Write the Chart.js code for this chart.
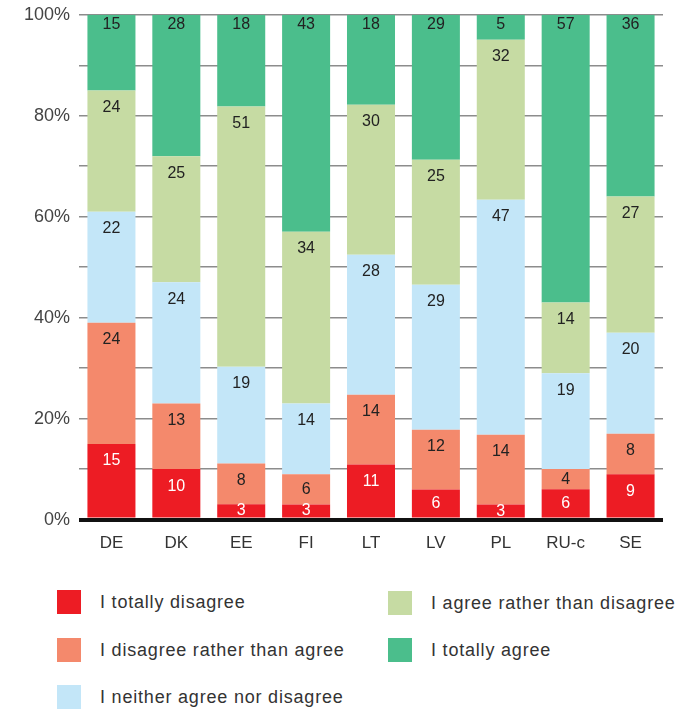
<!DOCTYPE html>
<html>
<head>
<meta charset="utf-8">
<script src="https://cdn.jsdelivr.net/npm/chart.js@4"></script>
<style>
  body { margin: 0; background: #fff; font-family: "Liberation Sans", Arial, sans-serif; }
  #wrap { position: relative; width: 692px; height: 710px; overflow: hidden; }
  #box { position: absolute; left: 0; top: -5px; width: 692px; height: 565px; }
  .leg { position: absolute; display: flex; align-items: center; font-size: 18px; letter-spacing: 0.8px; color: #333; white-space: nowrap; }
  .leg span.sw { display: inline-block; width: 24px; height: 24px; margin-right: 19px; }
</style>
</head>
<body>
<div id="wrap">
  <div id="box"><canvas id="myChart"></canvas></div>
  <div id="legend"></div>
</div>
<script>
const countries = ['DE', 'DK', 'EE', 'FI', 'LT', 'LV', 'PL', 'RU-c', 'SE'];
const totallyDisagree = [15, 10, 3, 3, 11, 6, 3, 6, 9];
const ratherDisagree = [24, 13, 8, 6, 14, 12, 14, 4, 8];
const neither = [22, 24, 19, 14, 28, 29, 47, 19, 20];
const ratherAgree = [24, 25, 51, 34, 30, 25, 32, 14, 27];
const totallyAgree = [15, 28, 18, 43, 18, 29, 5, 57, 36];
const yTicks = [0, 20, 40, 60, 80, 100];

const series = [
  { label: 'I totally disagree', values: totallyDisagree, color: '#ed1c24', text: '#fff' },
  { label: 'I disagree rather than agree', values: ratherDisagree, color: '#f4896c', text: '#222' },
  { label: 'I neither agree nor disagree', values: neither, color: '#c3e6f8', text: '#222' },
  { label: 'I agree rather than disagree', values: ratherAgree, color: '#c6dba3', text: '#222' },
  { label: 'I totally agree', values: totallyAgree, color: '#4bbe8c', text: '#222' }
];

// bars are shown as share of each country's total
const totals = countries.map((c, i) => series.reduce((s, d) => s + d.values[i], 0));

const segLabels = {
  id: 'segLabels',
  afterDatasetsDraw(chart) {
    const ctx = chart.ctx;
    ctx.save();
    ctx.font = '16px "Liberation Sans", Arial, sans-serif';
    ctx.textAlign = 'center';
    ctx.textBaseline = 'middle';
    chart.data.datasets.forEach((ds, di) => {
      const meta = chart.getDatasetMeta(di);
      meta.data.forEach((bar, i) => {
        const h = bar.base - bar.y;
        const off = di === series.length - 1 ? 10 : Math.min(17, h / 2);
        ctx.fillStyle = series[di].text;
        ctx.fillText(series[di].values[i], bar.x, bar.y + off);
      });
    });
    ctx.restore();
  }
};

const chart = document.getElementById('myChart');
new Chart(chart, {
  type: 'bar',
  data: {
    labels: countries,
    datasets: series.map(s => ({
      label: s.label,
      data: s.values.map((v, i) => v / totals[i] * 100),
      backgroundColor: s.color,
      borderWidth: 0,
      barPercentage: 0.74,
      categoryPercentage: 1
    }))
  },
  options: {
    responsive: true,
    maintainAspectRatio: false,
    animation: false,
    layout: { padding: { top: 2, right: 29, left: 0, bottom: 0 } },
    plugins: { legend: { display: false }, tooltip: { enabled: false } },
    scales: {
      x: {
        stacked: true,
        grid: { display: false },
        border: { display: false },
        ticks: { color: '#333', font: { size: 17, family: '"Liberation Sans", Arial, sans-serif' }, padding: 6 }
      },
      y: {
        stacked: true,
        min: 0,
        max: 100,
        afterFit(scale) { scale.width = 79; },
        border: { display: false },
        grid: {
          color: c => c.tick && c.tick.value === 0 ? '#111' : '#8c8c8c',
          lineWidth: c => c.tick && c.tick.value === 0 ? 4 : 1.5,
          drawTicks: false
        },
        ticks: {
          stepSize: 10,
          padding: 9,
          color: '#444',
          font: { size: 18, family: '"Liberation Sans", Arial, sans-serif' },
          callback: v => yTicks.includes(v) ? v + '%' : ''
        }
      }
    }
  },
  plugins: [segLabels]
});

// legend in two columns under the chart
const legendPos = [[57, 602], [57, 650], [57, 697], [388, 603], [388, 650]];
const legend = document.getElementById('legend');
series.forEach((s, i) => {
  const d = document.createElement('div');
  d.className = 'leg';
  d.style.left = legendPos[i][0] + 'px';
  d.style.top = (legendPos[i][1] - 12) + 'px';
  d.style.height = '24px';
  d.innerHTML = '<span class="sw" style="background:' + s.color + '"></span>' + s.label;
  legend.appendChild(d);
});
</script>
</body>
</html>
